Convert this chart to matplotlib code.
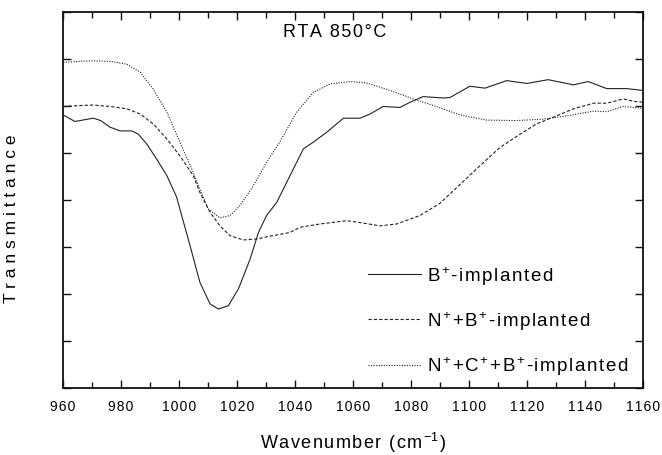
import matplotlib
matplotlib.use("Agg")
import matplotlib.pyplot as plt
from matplotlib.ticker import FixedFormatter

plt.rcParams['font.family'] = ['Liberation Sans', 'DejaVu Sans']
plt.rcParams['mathtext.fontset'] = 'custom'
plt.rcParams['mathtext.rm'] = 'Liberation Sans'
plt.rcParams['mathtext.it'] = 'Liberation Sans'
plt.rcParams['mathtext.default'] = 'regular'

# B+-implanted
b_x = [960.1, 964.1, 967.6, 970.5, 973, 976.2, 979.7, 983.7, 986, 988.9, 992.3, 995.8, 999.2,
       1000.3, 1003.8, 1007.2, 1010.7, 1013.6, 1017, 1020.5, 1024.5, 1027.4, 1030.2, 1033.7, 1038.3,
       1042.9, 1046.3, 1050.9, 1056.7, 1062.4, 1065.9, 1070.4, 1076.2, 1079.7, 1084.2, 1091.1,
       1093.4, 1100.3, 1105.5, 1113, 1119.9, 1127.3, 1136, 1141.1, 1147.5, 1154.4, 1160]
b_y = [5.81, 5.67, 5.71, 5.74, 5.69, 5.55, 5.47, 5.47, 5.40, 5.19, 4.87, 4.52, 4.06,
       3.81, 3.03, 2.25, 1.79, 1.68, 1.75, 2.11, 2.74, 3.31, 3.67, 3.95, 4.52,
       5.09, 5.23, 5.44, 5.74, 5.74, 5.83, 5.99, 5.97, 6.08, 6.20, 6.17,
       6.18, 6.42, 6.38, 6.54, 6.48, 6.56, 6.45, 6.52, 6.37, 6.37, 6.33]

# N+ + B+-implanted
nb_x = [960.1, 965.9, 970.5, 976.2, 982, 986.6, 991.1, 995.8, 1000.3, 1004.9, 1007.2,
        1010.7, 1014.1, 1017.6, 1022.2, 1026.8, 1031.4, 1038.3, 1041.7, 1048.6, 1057.8, 1062.4,
        1069.3, 1075.1, 1083.1, 1090, 1096.9, 1103.8, 1110.7, 1117.6, 1123.3, 1130.2, 1136,
        1142.9, 1147.5, 1153.2, 1156.7, 1160]
nb_y = [5.99, 6.01, 6.02, 5.99, 5.94, 5.83, 5.62, 5.30, 4.94, 4.52, 4.16,
        3.74, 3.45, 3.24, 3.15, 3.17, 3.23, 3.31, 3.42, 3.49, 3.56, 3.52,
        3.45, 3.49, 3.67, 3.93, 4.33, 4.73, 5.12, 5.40, 5.62, 5.79, 5.94,
        6.06, 6.06, 6.15, 6.10, 6.08]

# N+ + C+ + B+-implanted
ncb_x = [960.1, 965.9, 970.5, 976.2, 982, 986.6, 991.1, 995.8, 1000.3, 1004.9, 1007.2,
         1010.1, 1014.1, 1017.6, 1021, 1025.6, 1030.2, 1034.8, 1040.6, 1046.3, 1052.1, 1059,
         1064.7, 1072.8, 1080.8, 1087.7, 1096.9, 1106.1, 1116.4, 1125.6, 1133.7, 1142.9,
         1147.5, 1153.2, 1160]
ncb_y = [6.93, 6.95, 6.96, 6.95, 6.89, 6.72, 6.36, 5.87, 5.23, 4.59, 4.23,
         3.81, 3.62, 3.67, 3.88, 4.30, 4.80, 5.24, 5.87, 6.29, 6.47, 6.52,
         6.49, 6.33, 6.15, 6.01, 5.81, 5.70, 5.69, 5.72, 5.79, 5.89,
         5.88, 5.99, 5.95]

x_ticks = [960, 980, 1000, 1020, 1040, 1060, 1080, 1100, 1120, 1140, 1160]
labels = ['B$^{+}$-implanted', 'N$^{+}$+B$^{+}$-implanted', 'N$^{+}$+C$^{+}$+B$^{+}$-implanted']

HAIR = '\u200a'


def spaced(s, sep=HAIR):
    parts = s.split('$')
    out = []
    for i, p in enumerate(parts):
        if i % 2 == 0:
            out.append(sep.join(p))
        else:
            out.append('$' + p + '$')
    return sep.join([o for o in out if o != ''])


fig = plt.figure(figsize=(6.62, 4.56), dpi=100)
ax = fig.add_axes([63/662, 1-389/456, 580/662, 376/456])

lw = 0.8
col = '#222222'
ax.plot(b_x, b_y, color=col, lw=lw, ls='-', label=spaced(labels[0]))
ax.plot(nb_x, nb_y, color=col, lw=lw, ls=(0, (3, 1.8)), label=spaced(labels[1]))
ax.plot(ncb_x, ncb_y, color=col, lw=lw, ls=(0, (1, 1.3)), label=spaced(labels[2]))

ax.set_xlim(960, 1160)
ax.set_ylim(0, 8)
ax.set_xticks(x_ticks)
ax.xaxis.set_major_formatter(FixedFormatter([spaced(str(t)) for t in x_ticks]))
ax.set_xticks(range(970, 1160, 20), minor=True)
ax.set_yticks(range(0, 9))
ax.set_yticklabels([])
ax.tick_params(axis='both', which='both', direction='in', top=True, right=True, width=1.0, color='#111111')
ax.tick_params(axis='both', which='major', length=6)
ax.tick_params(axis='both', which='minor', length=4)
ax.tick_params(axis='x', labelsize=10, pad=8)
for s in ax.spines.values():
    s.set_linewidth(1.3)
    s.set_color('#111111')

ax.set_xlabel(spaced('Wavenumber (cm$^{-1}$)'), fontsize=13, labelpad=12)
ax.set_ylabel(spaced('Transmittance', ' '), fontsize=12.5)
ax.yaxis.set_label_coords((19-63)/580, (389-219)/376)
ax.text((334.5-63)/580, (389-33)/376, spaced('RTA 850°C'), transform=ax.transAxes,
        ha='center', va='center', fontsize=13)

leg = ax.legend(loc='upper left', bbox_to_anchor=(368/662, 1-265/456), bbox_transform=fig.transFigure,
                frameon=False, fontsize=13.5, handlelength=2.8, labelspacing=1.2, handletextpad=0.35,
                borderpad=0, borderaxespad=0)
fig.savefig('out.png', dpi=100)
